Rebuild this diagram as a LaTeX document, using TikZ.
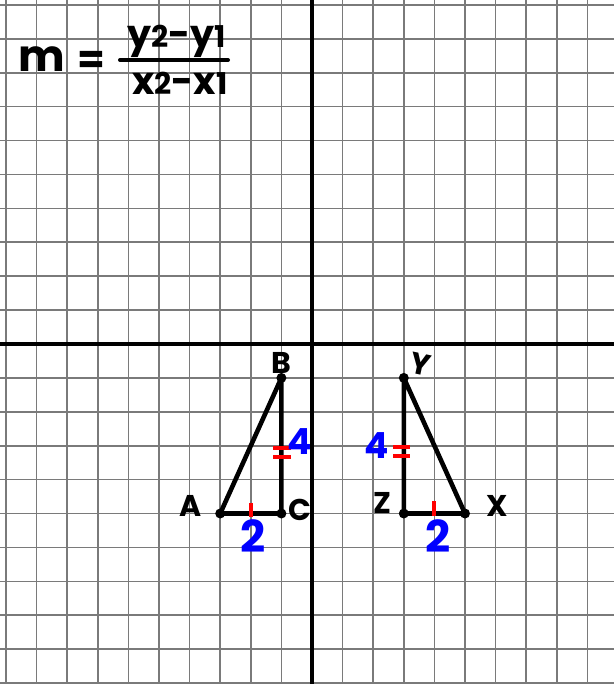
\documentclass[tikz,border=0pt]{standalone}
\usepackage{fontspec}
\setmainfont{Poppins}
\begin{document}
\begin{tikzpicture}[x=1pt,y=-1pt,
  gridline/.style={draw=black!52,line width=1.6},
  axisline/.style={draw=black,line width=3.2},
  tri/.style={draw=black,line width=4.6,line join=round,line cap=round},
  vdot/.style={fill=black},
  tick/.style={draw=red,line width=4},
  lab/.style={inner sep=0pt,font=\fontsize{30}{30}\selectfont\bfseries},
  num/.style={inner sep=0pt,text=blue,font=\fontsize{36}{36}\selectfont\bfseries},
  frm/.style={inner sep=0pt,font=\fontsize{38}{38}\selectfont\bfseries}]
\useasboundingbox (0,0) rectangle (614,684);
\fill[white] (0,0) rectangle (614,684);
% grid
\foreach \k in {-10,...,9} \draw[gridline] ({312+30.6*\k},0) -- ({312+30.6*\k},684);
\foreach \k in {-10,...,10} \draw[gridline] (0,{344+33.9*\k}) -- (614,{344+33.9*\k});
% axes
\coordinate (ytop) at (312,0); \coordinate (ybot) at (312,684);
\coordinate (xl) at (0,344); \coordinate (xr) at (614,344);
\draw[axisline] (ytop) -- (ybot);
\draw[axisline] (xl) -- (xr);
% formula
\node[frm,font=\fontsize{44}{44}\selectfont\bfseries] (m) at (42,59) {m};
\node[frm,font=\fontsize{40}{40}\selectfont\bfseries] (eq) at (91,62) {=};
\coordinate (barL) at (120,60); \coordinate (barR) at (228,60);
\draw[line width=4,line cap=round] (barL) -- (barR);
\node[frm,anchor=base] (numr) at (177,48) {y{\fontsize{30}{30}\selectfont 2}-y{\fontsize{30}{30}\selectfont 1}};
\node[frm,anchor=base] (denr) at (180,95) {x{\fontsize{30}{30}\selectfont 2}-x{\fontsize{30}{30}\selectfont 1}};
% left triangle
\coordinate (A) at (220.2,513.5);
\coordinate (C) at (281.4,513.5);
\coordinate (B) at (281.4,377.9);
\draw[tri] (A) -- (B) -- (C) -- cycle;
\foreach \p in {A,B,C} \fill[vdot] (\p) circle (5);
\draw[tick] (250.8,503) -- (250.8,517);
\draw[tick] (273,448) -- (291,448);
\draw[tick] (273,457) -- (291,457);
\node[lab] (lB) at (281,363) {B};
\node[lab] (lA) at (191,506) {A};
\node[lab] (lC) at (300,510) {C};
\node[num] (n4a) at (300,442) {4};
\node[num,font=\fontsize{44}{44}\selectfont\bfseries] (n2a) at (253,536) {2};
% right triangle
\coordinate (Y) at (403.8,377.9);
\coordinate (Z) at (403.8,513.5);
\coordinate (X) at (465,513.5);
\draw[tri] (Y) -- (Z) -- (X) -- cycle;
\foreach \p in {X,Y,Z} \fill[vdot] (\p) circle (5);
\draw[tick] (434.4,501) -- (434.4,516);
\draw[tick] (393,447) -- (410,447);
\draw[tick] (393,456) -- (410,456);
\node[lab,rotate=-12] (lY) at (421,364) {Y};
\node[lab] (lZ) at (382,503) {Z};
\node[lab] (lX) at (497,506) {X};
\node[num] (n4b) at (377,446) {4};
\node[num,font=\fontsize{44}{44}\selectfont\bfseries] (n2b) at (438,536) {2};
\end{tikzpicture}
\end{document}
